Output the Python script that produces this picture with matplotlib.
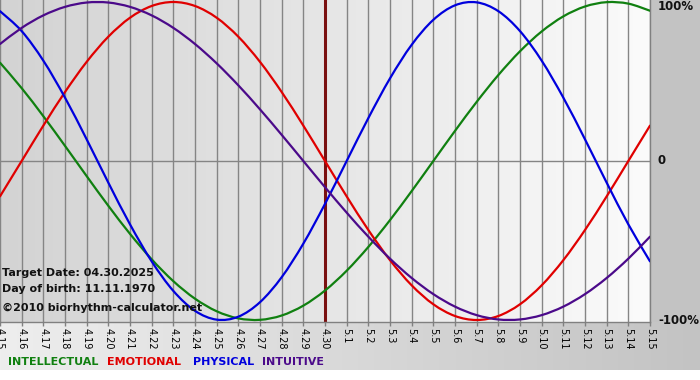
import numpy as np
import matplotlib
matplotlib.use('Agg')
import matplotlib.pyplot as plt
from matplotlib.colors import LinearSegmentedColormap, to_rgb
from matplotlib.path import Path
from matplotlib.patches import PathPatch

# ---------------- data ----------------
dates = ['4.15', '4.16', '4.17', '4.18', '4.19', '4.20', '4.21', '4.22', '4.23',
         '4.24', '4.25', '4.26', '4.27', '4.28', '4.29', '4.30',
         '5.1', '5.2', '5.3', '5.4', '5.5', '5.6', '5.7', '5.8', '5.9', '5.10',
         '5.11', '5.12', '5.13', '5.14', '5.15']

intellectual = [0.6182, 0.4582, 0.2817, 0.0951, -0.0951, -0.2817, -0.4582, -0.6182,
                -0.7557, -0.8660, -0.9450, -0.9898, -0.9989, -0.9718, -0.9096, -0.8146,
                -0.6901, -0.5406, -0.3717, -0.1893, 0.0, 0.1893, 0.3717, 0.5406,
                0.6901, 0.8146, 0.9096, 0.9718, 0.9989, 0.9898, 0.9450]

emotional = [-0.2225, 0.0, 0.2225, 0.4339, 0.6235, 0.7818, 0.9010, 0.9749, 1.0,
             0.9749, 0.9010, 0.7818, 0.6235, 0.4339, 0.2225, 0.0, -0.2225, -0.4339,
             -0.6235, -0.7818, -0.9010, -0.9749, -1.0, -0.9749, -0.9010, -0.7818,
             -0.6235, -0.4339, -0.2225, 0.0, 0.2225]

physical = [0.9423, 0.8170, 0.6311, 0.3984, 0.1362, -0.1362, -0.3984, -0.6311,
            -0.8170, -0.9423, -0.9977, -0.9791, -0.8879, -0.7308, -0.5196, -0.2698,
            0.0, 0.2698, 0.5196, 0.7308, 0.8879, 0.9791, 0.9977, 0.9423, 0.8170,
            0.6311, 0.3984, 0.1362, -0.1362, -0.3984, -0.6311]

intuitive = [0.7357, 0.8372, 0.9158, 0.9694, 0.9966, 0.9966, 0.9694, 0.9158, 0.8372,
             0.7357, 0.6142, 0.4759, 0.3247, 0.1646, 0.0, -0.1646, -0.3247, -0.4759,
             -0.6142, -0.7357, -0.8372, -0.9158, -0.9694, -0.9966, -0.9966, -0.9694,
             -0.9158, -0.8372, -0.7357, -0.6142, -0.4759]

series_names = ['INTELLECTUAL', 'EMOTIONAL', 'PHYSICAL', 'INTUITIVE']
target_date_label = '4.30'
y_levels = [1.0, 0.0, -1.0]
y_labels = ['100%', '0', '-100%']
info_lines = ['Target Date: 04.30.2025', 'Day of birth: 11.11.1970',
              '\u00a92010 biorhythm-calculator.net']

# ---------------- style ----------------
colors = {'INTELLECTUAL': '#108010', 'EMOTIONAL': '#e00000',
          'PHYSICAL': '#0000dd', 'INTUITIVE': '#4b0a8a'}
W, H = 700, 380
PLOT_R, PLOT_B = 650, 322
YLIM = 161 / 159

fig = plt.figure(figsize=(W / 100, H / 100), dpi=100)
fig.patch.set_facecolor('white')

# figure background
bg = fig.add_axes([0, 0, 1, 1], zorder=0)
img = np.ones((H, W, 3))
gray = np.array(to_rgb('#c3c3c3'))
img[:PLOT_B, PLOT_R:, :] = gray
t = np.linspace(0, 1, W)[:, None]
band = (1 - t) * np.array(to_rgb('#eeeeee')) + t * gray
img[PLOT_B:370, :, :] = band[None, :, :]
bg.imshow(img, extent=[0, W, H, 0], aspect='auto', interpolation='nearest')
bg.set_xlim(0, W)
bg.set_ylim(H, 0)
bg.axis('off')

# main axes
ax = fig.add_axes([0, (H - PLOT_B) / H, PLOT_R / W, PLOT_B / H], zorder=1)
x = np.arange(len(dates))
ax.set_xlim(0, len(dates) - 1)
ax.set_ylim(-YLIM, YLIM)

grad_cmap = LinearSegmentedColormap.from_list('g', ['#d3d3d3', '#e6e6e6', '#fbfbfb'])
ax.imshow(np.linspace(0, 1, 256)[None, :], extent=[0, len(dates) - 1, -YLIM, YLIM],
          aspect='auto', cmap=grad_cmap, zorder=0)

ax.set_xticks(x)
ax.set_xticklabels(dates, rotation=-90, fontsize=7, va='top', ha='center')
ax.tick_params(axis='x', length=3, width=1, color='#808080', pad=1)
ax.set_yticks([])
ax.grid(axis='x', color='#858585', lw=1, zorder=1)
ax.axhline(0, color='#858585', lw=1, zorder=1)

for s in ['top', 'left']:
    ax.spines[s].set_visible(False)
for s in ['bottom', 'right']:
    ax.spines[s].set_color('#808080')
    ax.spines[s].set_linewidth(1)

ax.axvline(dates.index(target_date_label), color='#7a1010', lw=2.2, zorder=2)


def smooth_line(ax, xs, ys, color):
    """Draw a smooth curve (Catmull-Rom as cubic Bezier) through the data points."""
    xs = np.asarray(xs, float)
    ys = np.asarray(ys, float)
    n = len(xs)
    verts = [(xs[0], ys[0])]
    codes = [Path.MOVETO]
    for i in range(n - 1):
        p0 = i - 1 if i > 0 else i
        p3 = i + 2 if i + 2 < n else i + 1
        c1 = (xs[i] + (xs[i + 1] - xs[p0]) / 6, ys[i] + (ys[i + 1] - ys[p0]) / 6)
        c2 = (xs[i + 1] - (xs[p3] - xs[i]) / 6, ys[i + 1] - (ys[p3] - ys[i]) / 6)
        verts += [c1, c2, (xs[i + 1], ys[i + 1])]
        codes += [Path.CURVE4] * 3
    ax.add_patch(PathPatch(Path(verts, codes), facecolor='none', edgecolor=color,
                           lw=1.6, zorder=3, capstyle='round', joinstyle='round'))


smooth_line(ax, x, intellectual, colors['INTELLECTUAL'])
smooth_line(ax, x, emotional, colors['EMOTIONAL'])
smooth_line(ax, x, physical, colors['PHYSICAL'])
smooth_line(ax, x, intuitive, colors['INTUITIVE'])

# right-hand labels
for lvl, lab in zip(y_levels, y_labels):
    ypx = 161 - 159 * lvl
    ypx = min(max(ypx, 7), 322)
    fig.text(658 / W, 1 - ypx / H, lab, fontsize=8.5, fontweight='bold',
             ha='left', va='center', color='#111111', zorder=5)

# info text
for ypx, line in zip([276, 292, 311], info_lines):
    fig.text(2 / W, 1 - ypx / H, line, fontsize=8, fontweight='bold',
             ha='left', va='baseline', color='#111111', zorder=5)

# legend text
for xpx, name in zip([8, 107, 193, 262], series_names):
    fig.text(xpx / W, 1 - 362 / H, name, fontsize=8, fontweight='bold',
             ha='left', va='center', color=colors[name], zorder=5)

fig.savefig('out.png', dpi=100, facecolor=fig.get_facecolor())
